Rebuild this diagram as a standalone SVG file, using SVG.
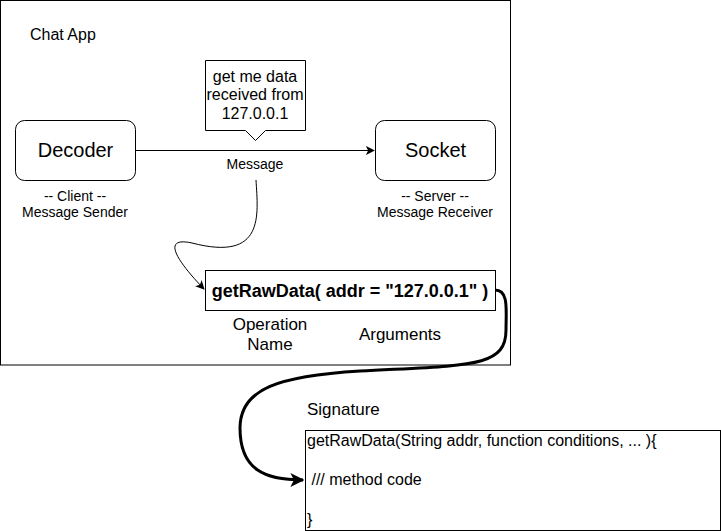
<svg xmlns="http://www.w3.org/2000/svg" width="721" height="531" viewBox="0 0 721 531">
<defs>
<style>
text{font-family:"Liberation Sans",Arial,sans-serif;fill:#000}
.box{fill:#fff;stroke:#000;stroke-width:1}
.t16{font-size:16px}
.t17{font-size:17px}
.t14{font-size:14px}
.mid{text-anchor:middle}
</style>
<marker id="ah" viewBox="0 0 10 10" refX="9" refY="5" markerWidth="9" markerHeight="9" markerUnits="userSpaceOnUse" orient="auto">
<path d="M0,0 L10,5 L0,10 L2.5,5 Z" fill="#000"/>
</marker>
<marker id="ahb" viewBox="0 0 10 10" refX="9" refY="5" markerWidth="14" markerHeight="14" markerUnits="userSpaceOnUse" orient="auto">
<path d="M0,0 L10,5 L0,10 L2.5,5 Z" fill="#000"/>
</marker>
</defs>
<rect width="721" height="531" fill="#fff"/>
<g id="chat-app">
<rect x="0.5" y="0.5" width="510" height="364.5" class="box"/>
<text x="30" y="40" style="font-size:16px">Chat App</text>
</g>
<g id="callout">
<path d="M205.5,60.5 H305.5 V130.5 H265.5 L255.5,140.5 L245.5,130.5 H205.5 Z" class="box"/>
<text x="255" y="82" class="t16 mid">get me data</text>
<text x="255" y="100" class="t16 mid">received from</text>
<text x="255" y="119" class="t16 mid">127.0.0.1</text>
</g>
<g id="decoder">
<rect x="15.5" y="120.5" width="120" height="60" rx="9" class="box"/>
<text x="75.5" y="157" class="mid" style="font-size:20px">Decoder</text>
<text x="75" y="201" class="t14 mid">-- Client --</text>
<text x="75" y="217" class="t14 mid">Message Sender</text>
</g>
<g id="socket">
<rect x="375.5" y="120.5" width="120" height="60" rx="9" class="box"/>
<text x="435.5" y="157" class="mid" style="font-size:20px">Socket</text>
<text x="435" y="201" class="t14 mid">-- Server --</text>
<text x="435" y="217" class="t14 mid">Message Receiver</text>
</g>
<g id="call">
<rect x="205.5" y="270.5" width="290" height="40" class="box"/>
<text x="350" y="297" class="mid" style="font-size:18px;font-weight:bold">getRawData( addr = "127.0.0.1" )</text>
<text x="270" y="330" class="t17 mid">Operation</text>
<text x="270" y="350" class="t17 mid">Name</text>
<text x="400" y="340" class="t17 mid">Arguments</text>
</g>
<g id="signature">
<text x="307" y="415" class="t17">Signature</text>
<rect x="305.5" y="430.5" width="415" height="100" class="box"/>
<text x="307" y="446" class="t16">getRawData(String addr, function conditions, ... ){</text>
<text x="307" y="485" class="t16" xml:space="preserve"> /// method code</text>
<text x="307" y="525" class="t16">}</text>
</g>
<g id="connectors" fill="none" stroke="#000">
<path d="M135.5,150.5 H374" stroke-width="1" marker-end="url(#ah)"/>
<text x="255" y="169" class="t14 mid" stroke="none">Message</text>
<path d="M256,180 C258,215 265,262 192,243 C160,236 178,262 204,289" stroke-width="1" marker-end="url(#ah)"/>
<path d="M495,290 C509,290 506,310 506,330 C506,368 470,365 360,371 C280,376 240,388 240,428 C240,470 265,480 303,480" stroke-width="3" marker-end="url(#ahb)"/>
</g>
</svg>
